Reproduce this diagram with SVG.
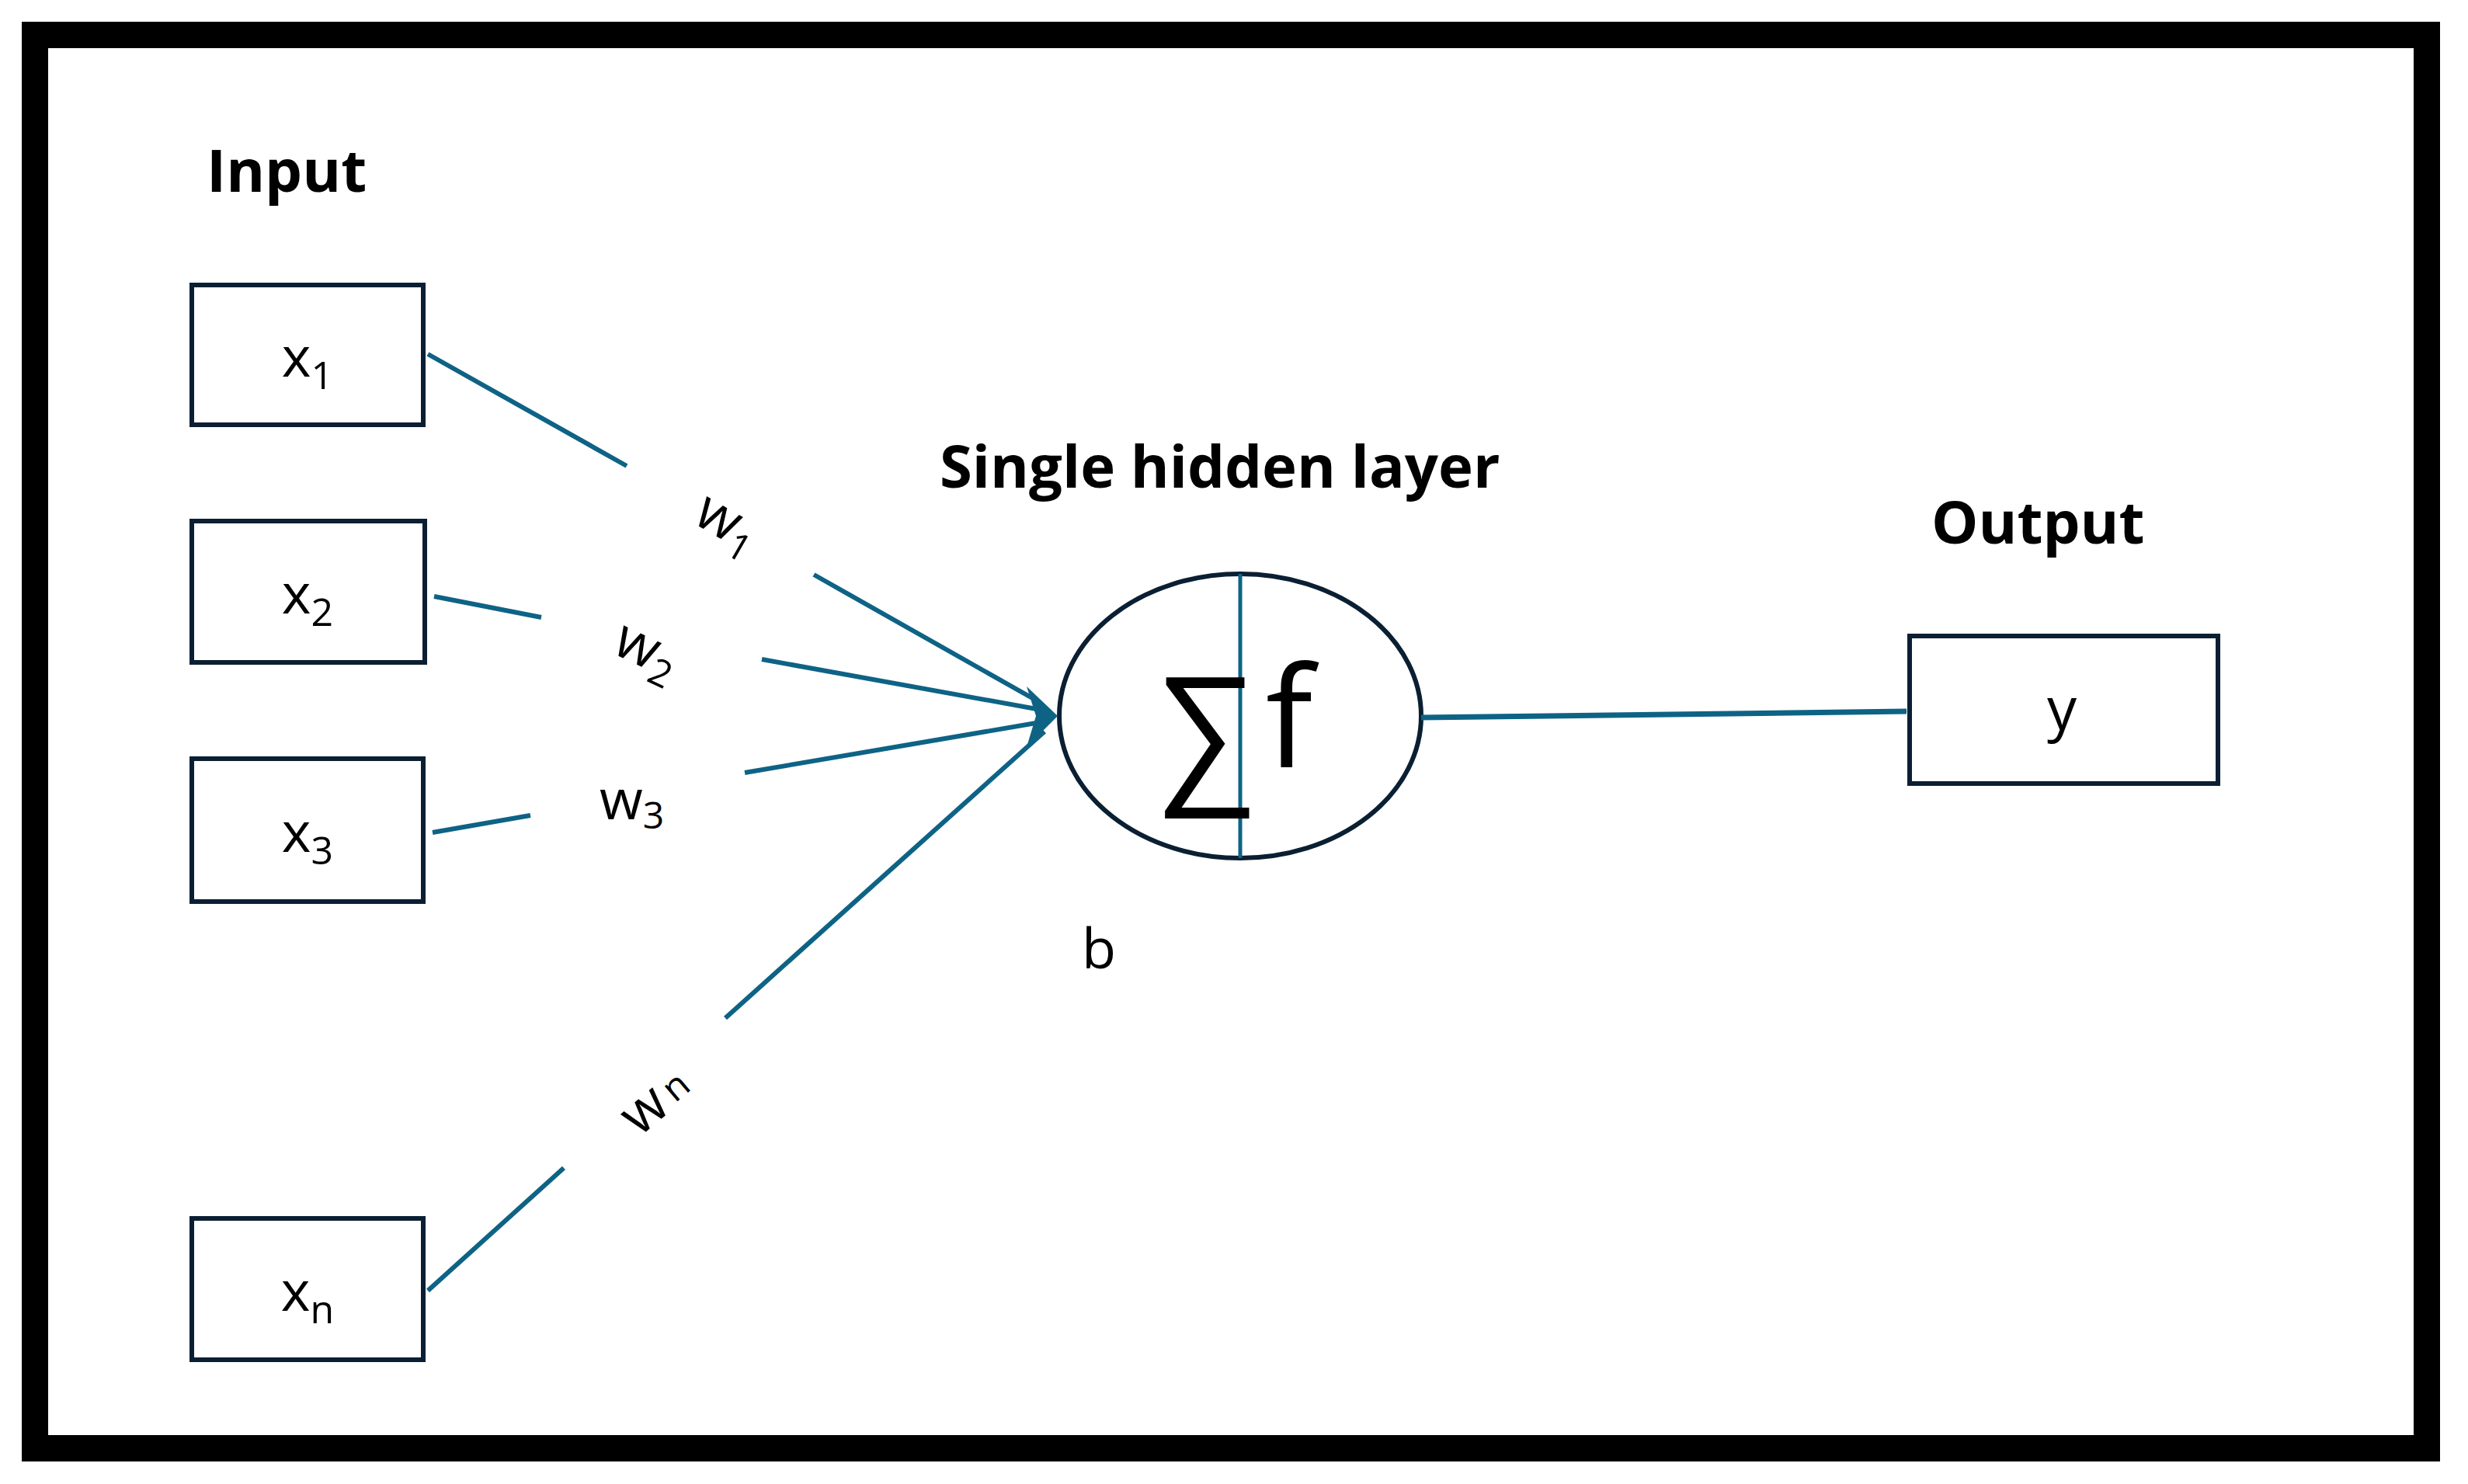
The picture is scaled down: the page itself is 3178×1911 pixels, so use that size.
<svg xmlns="http://www.w3.org/2000/svg" width="3178" height="1911" viewBox="0 0 3178 1911">
<defs>
<style>
.box{fill:#fff;stroke:#0b1f33;stroke-width:6}
.ln{stroke:#0e6385;stroke-width:6;fill:none}
.t{font-family:"Open Sans","Liberation Sans",sans-serif;fill:#000}
.h{font-family:"Open Sans","Liberation Sans",sans-serif;font-weight:bold;font-size:76px;fill:#000}
</style>
<marker id="ah" viewBox="0 0 10 10" refX="9" refY="5" markerWidth="7" markerHeight="7" markerUnits="userSpaceOnUse" orient="auto"><path d="M0,0L10,5L0,10z" fill="#0e6385"/></marker>
</defs>
<rect width="3178" height="1911" fill="#fff"/>
<rect x="45" y="45" width="3080" height="1820" fill="none" stroke="#000" stroke-width="34"/>
<text class="h" x="266" y="247">Input</text>
<text class="h" x="1210" y="628">Single hidden layer</text>
<text class="h" x="2487" y="700">Output</text>
<g id="x1"><rect class="box" x="247" y="367" width="298" height="180"/><text class="t" x="396" y="485" font-size="72" text-anchor="middle">x<tspan font-size="50" dy="16">1</tspan></text></g>
<g id="x2"><rect class="box" x="247" y="671" width="300" height="182"/><text class="t" x="396" y="790" font-size="72" text-anchor="middle">x<tspan font-size="50" dy="16">2</tspan></text></g>
<g id="x3"><rect class="box" x="247" y="977" width="298" height="184"/><text class="t" x="396" y="1097" font-size="72" text-anchor="middle">x<tspan font-size="50" dy="16">3</tspan></text></g>
<g id="xn"><rect class="box" x="247" y="1569" width="298" height="182"/><text class="t" x="396" y="1688" font-size="72" text-anchor="middle">x<tspan font-size="50" dy="16">n</tspan></text></g>
<g id="y"><rect class="box" x="2459" y="819" width="397" height="190"/><text class="t" x="2655" y="940" font-size="76" text-anchor="middle">y</text></g>
<g id="neuron">
<ellipse cx="1597" cy="922" rx="233" ry="183" fill="#fff" stroke="#0b1f33" stroke-width="6"/>
<line x1="1597" y1="739" x2="1597" y2="1105" stroke="#0e6385" stroke-width="5"/>
<text class="t" x="1553" y="1008" font-size="190" text-anchor="middle">∑</text>
<text class="t" x="1660" y="988" font-size="180" text-anchor="middle">f</text>
</g>
<text class="t" x="1415" y="1247" font-size="72" text-anchor="middle">b</text>
<g id="labels" class="t" font-size="72">
<text transform="translate(890,672) rotate(30)">w<tspan font-size="48" dy="14">1</tspan></text>
<text transform="translate(786,840) rotate(25)">w<tspan font-size="48" dy="14">2</tspan></text>
<text x="772" y="1055">w<tspan font-size="48" dy="12">3</tspan></text>
<text transform="translate(823,1465) rotate(-40)">w<tspan font-size="48" dy="-4" dx="8">n</tspan></text>
</g>
<g id="connectors" class="ln">
<line x1="551" y1="456" x2="807" y2="600"/><line x1="1048" y1="740" x2="1340" y2="905"/>
<line x1="559" y1="768" x2="697" y2="795"/><line x1="981" y1="849" x2="1340" y2="914"/>
<line x1="557" y1="1072" x2="683" y2="1050"/><line x1="959" y1="995" x2="1340" y2="930"/>
<line x1="551" y1="1662" x2="726" y2="1504"/><line x1="934" y1="1311" x2="1345" y2="942"/>
<path d="M1362,922L1322,884L1334,922L1322,962z" fill="#0e6385" stroke="none"/>
<line x1="1830" y1="924" x2="2455" y2="916" stroke-width="7" marker-end="url(#ah)"/>
</g>
</svg>
